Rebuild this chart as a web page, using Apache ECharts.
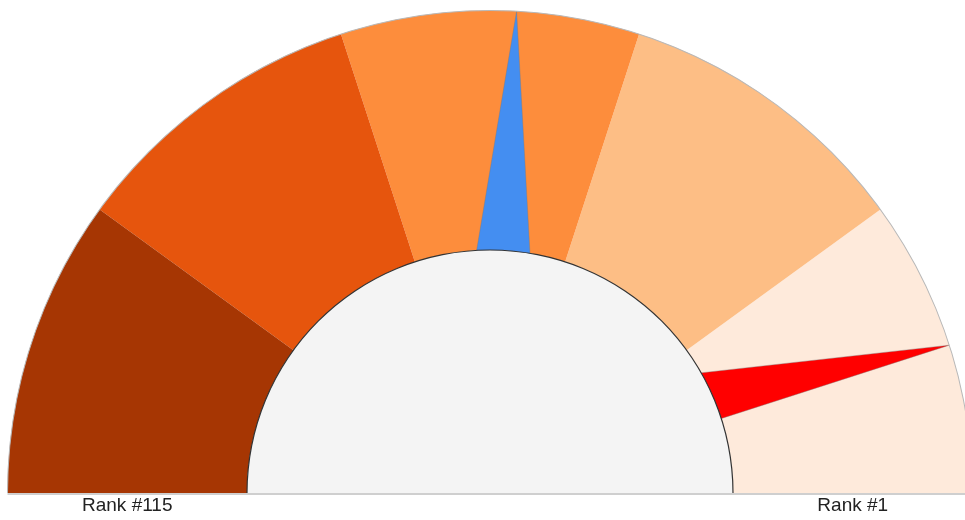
<!DOCTYPE html>
<html lang="en">
<head>
    <meta charset="UTF-8">
    <title>Rank gauge</title>
    <script src="https://cdn.jsdelivr.net/npm/echarts@6/dist/echarts.min.js"></script>
    <style type="text/css">
        html, body { margin: 0; padding: 0; background: #fff; }
        #chartData { width: 965px; height: 520px; }
    </style>
</head>
<body>
<div id="chartData"></div>
<script type="text/javascript">
    // scale: worst rank on the left, best rank on the right
    var rankMin = 115;
    var rankMax = 1;
    var rankLabels = ['Rank #115', 'Rank #1'];
    // colour bands (end of each band as share of the arc)
    var bandStops = [0.2, 0.4, 0.6, 0.8, 1];
    var bandColors = ['#a63603', '#e6550d', '#fd8d3c', '#fdbe85', '#feeadb'];
    // the two needles
    var blueRank = 56;
    var redRank = 12.3;

    var cx = 490, cy = 493, outerR = 482.5, innerR = 243;

    var myChart = echarts.init(document.getElementById('chartData'));

    var bands = [];
    for (var i = 0; i < bandStops.length; i++) {
        bands.push([bandStops[i], bandColors[i]]);
    }

    function baseGauge(extra) {
        var g = {
            type: 'gauge',
            center: [cx, cy],
            radius: outerR,
            startAngle: 180,
            endAngle: 0,
            min: rankMin,
            max: rankMax,
            splitNumber: 1,
            axisLine: {show: false},
            axisTick: {show: false},
            splitLine: {show: false},
            axisLabel: {show: false},
            pointer: {show: false},
            anchor: {show: false},
            title: {show: false},
            detail: {show: false},
            silent: true,
            data: []
        };
        for (var k in extra) { g[k] = extra[k]; }
        return g;
    }

    var option = {
        animation: false,
        backgroundColor: '#fff',
        graphic: [
            // white strip under the baseline hides needle bases
            {
                type: 'rect', z: 40,
                shape: {x: cx - outerR - 2, y: cy + 1, width: 2 * outerR + 4, height: 6},
                style: {fill: '#fff'}
            },
            {
                type: 'line', z: 50,
                shape: {x1: cx - outerR, y1: cy + 1, x2: cx + outerR, y2: cy + 1},
                style: {stroke: '#cfcfcf', lineWidth: 2}
            },
            {
                type: 'text', z: 50,
                x: cx - (outerR + innerR) / 2, y: cy + 13,
                style: {text: rankLabels[0], font: '19px "Liberation Sans", Arial, sans-serif',
                    fill: '#222', align: 'center', verticalAlign: 'middle'}
            },
            {
                type: 'text', z: 50,
                x: cx + (outerR + innerR) / 2, y: cy + 13,
                style: {text: rankLabels[1], font: '19px "Liberation Sans", Arial, sans-serif',
                    fill: '#222', align: 'center', verticalAlign: 'middle'}
            }
        ],
        series: [
            // colour bands + blue needle
            baseGauge({
                z: 2,
                axisLine: {show: true, lineStyle: {width: outerR - innerR, color: bands}},
                pointer: {
                    show: true,
                    icon: 'path://M0,1 L1,1 L0.5,0 Z',
                    length: '100%',
                    width: 107,
                    itemStyle: {color: '#448ef1', borderColor: 'rgba(120,120,120,0.6)', borderWidth: 0.6}
                },
                data: [{value: blueRank}]
            }),
            // red needle (one edge runs through the centre)
            baseGauge({
                z: 3,
                pointer: {
                    show: true,
                    icon: 'path://M0,1 L1,1 L1,0 Z M2,1 L2,1',
                    length: '100%',
                    width: 196,
                    itemStyle: {color: '#ff0000', borderColor: 'rgba(120,120,120,0.6)', borderWidth: 0.6}
                },
                data: [{value: redRank}]
            }),
            // thin outer rim
            baseGauge({
                z: 4,
                radius: outerR + 0.5,
                axisLine: {show: true, lineStyle: {width: 1, color: [[1, '#b8b8b8']]}}
            }),
            // inner disc hides the needle bases
            baseGauge({
                z: 5,
                radius: innerR,
                axisLine: {show: true, lineStyle: {width: innerR, color: [[1, '#f4f4f4']]}}
            }),
            baseGauge({
                z: 6,
                radius: innerR + 0.6,
                axisLine: {show: true, lineStyle: {width: 1.2, color: [[1, '#333']]}}
            })
        ]
    };
    myChart.setOption(option);
</script>
</body>
</html>
